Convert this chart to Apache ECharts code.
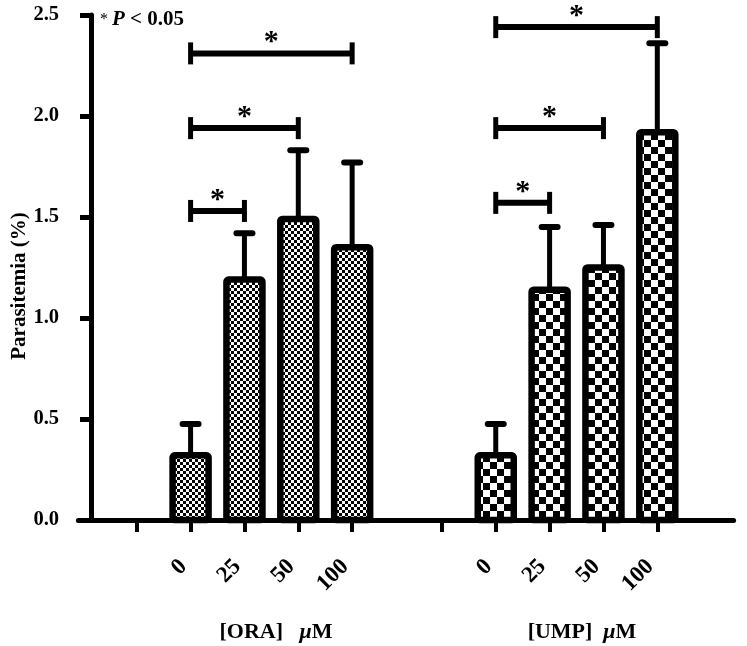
<!DOCTYPE html>
<html><head><meta charset="utf-8">
<script src="https://cdn.jsdelivr.net/npm/echarts@6/dist/echarts.min.js"></script>
<style>html,body{margin:0;padding:0;background:#fff}#chart{width:747px;height:646px}</style>
</head><body><div id="chart"></div>
<script>
// ---------- data ----------
const doses = ['0', '25', '50', '100'];
const groupNames = ['ORA', 'UMP'];
const oraMean = [0.32, 1.19, 1.49, 1.35];
const oraErr  = [0.155, 0.23, 0.34, 0.42];
const umpMean = [0.32, 1.14, 1.25, 1.92];
const umpErr  = [0.155, 0.31, 0.21, 0.44];
const yTicks  = [0.0, 0.5, 1.0, 1.5, 2.0, 2.5];
// significance brackets: [from dose, to dose, bracket height]
const oraSig = [['0', '25', 1.53], ['0', '50', 1.94], ['0', '100', 2.31]];
const umpSig = [['0', '25', 1.57], ['0', '50', 1.94], ['0', '100', 2.44]];

// ---------- layout of the category axis (fine slots) ----------
const SLOTS = 73, STEP = 6, GROUP_START = [6, 40];
const slotOf = (g, doseIdx) => GROUP_START[g] + STEP * (doseIdx + 1);
const cats = Array.from({length: SLOTS}, (_, i) => 's' + i);
const labelMap = {};
const tickSet = new Set();
GROUP_START.forEach((s, g) => {
  tickSet.add(s);
  doses.forEach((d, i) => { const k = slotOf(g, i); tickSet.add(k); labelMap[k] = d; });
});
const barData = (g, means) => means.map((v, i) => [slotOf(g, i), v]);
const errData = (g, means, errs) => means.map((v, i) => [slotOf(g, i), v, v + errs[i]]);
const sigData = (g, sig) => sig.map(s => [slotOf(g, doses.indexOf(s[0])), slotOf(g, doses.indexOf(s[1])), s[2]]);

function checker(cell) {
  const c = document.createElement('canvas');
  c.width = c.height = cell * 2;
  const ctx = c.getContext('2d');
  ctx.fillStyle = '#fff'; ctx.fillRect(0, 0, cell * 2, cell * 2);
  ctx.fillStyle = '#000';
  ctx.fillRect(0, 0, cell, cell); ctx.fillRect(cell, cell, cell, cell);
  return c;
}
const FONT = '"Liberation Serif", "Times New Roman", serif';
const BAR_W = 36;

function makeBarRenderer(pattern) {
  return function (params, api) {
    const x = api.value(0), v = api.value(1);
    const p0 = api.coord([x, 0]), p1 = api.coord([x, v]);
    return {type: 'rect',
      shape: {x: p0[0] - BAR_W / 2, y: p1[1], width: BAR_W, height: p0[1] - p1[1], r: 2},
      style: {fill: pattern, stroke: '#000', lineWidth: 6.5}};
  };
}
function renderErr(params, api) {
  const x = api.value(0), m = api.value(1), t = api.value(2);
  const p0 = api.coord([x, m]), p1 = api.coord([x, t]);
  return {type: 'group', children: [
    {type: 'line', shape: {x1: p0[0], y1: p0[1], x2: p1[0], y2: p1[1]}, style: {stroke: '#000', lineWidth: 5}},
    {type: 'line', shape: {x1: p1[0] - 8, y1: p1[1], x2: p1[0] + 8, y2: p1[1]}, style: {stroke: '#000', lineWidth: 6, lineCap: 'round'}}
  ]};
}
function renderSig(params, api) {
  const a = api.coord([api.value(0), api.value(2)]);
  const b = api.coord([api.value(1), api.value(2)]);
  const y = a[1];
  return {type: 'group', children: [
    {type: 'line', shape: {x1: a[0], y1: y, x2: b[0], y2: y}, style: {stroke: '#000', lineWidth: 6}},
    {type: 'line', shape: {x1: a[0], y1: y - 11, x2: a[0], y2: y + 11}, style: {stroke: '#000', lineWidth: 5}},
    {type: 'line', shape: {x1: b[0], y1: y - 11, x2: b[0], y2: y + 11}, style: {stroke: '#000', lineWidth: 5}},
    {type: 'text', style: {x: (a[0] + b[0]) / 2, y: y - 11, text: '*', align: 'center', verticalAlign: 'middle',
      font: 'bold 30px ' + FONT, fill: '#000'}}
  ]};
}

const chart = echarts.init(document.getElementById('chart'), null, {renderer: 'canvas'});
chart.setOption({
  animation: false,
  backgroundColor: '#fff',
  grid: {left: 78.4, right: 13.4, top: 15, bottom: 126, containLabel: false},
  xAxis: {
    type: 'category', data: cats,
    axisLine: {show: true, lineStyle: {color: '#000', width: 5}},
    axisTick: {show: true, alignWithLabel: true, interval: (i) => tickSet.has(i), length: 12,
      lineStyle: {color: '#000', width: 4}},
    axisLabel: {interval: (i) => tickSet.has(i), rotate: 45, margin: 36, padding: [0, 10, 0, 0],
      formatter: (v, i) => labelMap[i] || '',
      color: '#000', fontFamily: FONT, fontWeight: 'bold', fontSize: 23},
    splitLine: {show: false}
  },
  yAxis: {
    type: 'value', min: yTicks[0], max: yTicks[yTicks.length - 1], interval: yTicks[1] - yTicks[0],
    offset: -12.6,
    axisLine: {show: true, lineStyle: {color: '#000', width: 5}},
    axisTick: {show: true, length: 11, lineStyle: {color: '#000', width: 5}},
    axisLabel: {margin: 32, formatter: (v) => v.toFixed(1), color: '#000', fontFamily: FONT,
      fontWeight: 'bold', fontSize: 20.5},
    splitLine: {show: false}
  },
  series: [
    {type: 'custom', name: groupNames[0], data: barData(0, oraMean),
      renderItem: makeBarRenderer({image: checker(3), repeat: 'repeat'}), z: 2},
    {type: 'custom', name: groupNames[1], data: barData(1, umpMean),
      renderItem: makeBarRenderer({image: checker(7), repeat: 'repeat'}), z: 2},
    {type: 'custom', data: errData(0, oraMean, oraErr), renderItem: renderErr, z: 3},
    {type: 'custom', data: errData(1, umpMean, umpErr), renderItem: renderErr, z: 3},
    {type: 'custom', data: sigData(0, oraSig), renderItem: renderSig, z: 3},
    {type: 'custom', data: sigData(1, umpSig), renderItem: renderSig, z: 3}
  ],
  graphic: [
    {type: 'text', x: 100, y: 9, style: {
      text: '{a|*}{b|P}{c| < 0.05}',
      rich: {
        a: {fontFamily: FONT, fontSize: 16, fill: '#000', padding: [0, 4, 0, 0]},
        b: {fontFamily: FONT, fontSize: 21, fontWeight: 'bold', fontStyle: 'italic', fill: '#000'},
        c: {fontFamily: FONT, fontSize: 21, fontWeight: 'bold', fill: '#000'}
      }}},
    {type: 'text', x: 20, y: 286, rotation: Math.PI / 2, style: {
      text: 'Parasitemia (%)', align: 'center', verticalAlign: 'middle',
      font: 'bold 21px ' + FONT, fill: '#000'}},
    {type: 'text', x: 276, y: 632, style: {
      text: '{c|[' + groupNames[0] + ']   }{m|\u03bc}{c|M}', align: 'center', verticalAlign: 'middle',
      rich: {
        c: {fontFamily: FONT, fontSize: 22, fontWeight: 'bold', fill: '#000'},
        m: {fontFamily: FONT, fontSize: 22, fontWeight: 'bold', fontStyle: 'italic', fill: '#000'}
      }}},
    {type: 'text', x: 582, y: 632, style: {
      text: '{c|[' + groupNames[1] + ']  }{m|\u03bc}{c|M}', align: 'center', verticalAlign: 'middle',
      rich: {
        c: {fontFamily: FONT, fontSize: 22, fontWeight: 'bold', fill: '#000'},
        m: {fontFamily: FONT, fontSize: 22, fontWeight: 'bold', fontStyle: 'italic', fill: '#000'}
      }}}
  ]
});
</script></body></html>
